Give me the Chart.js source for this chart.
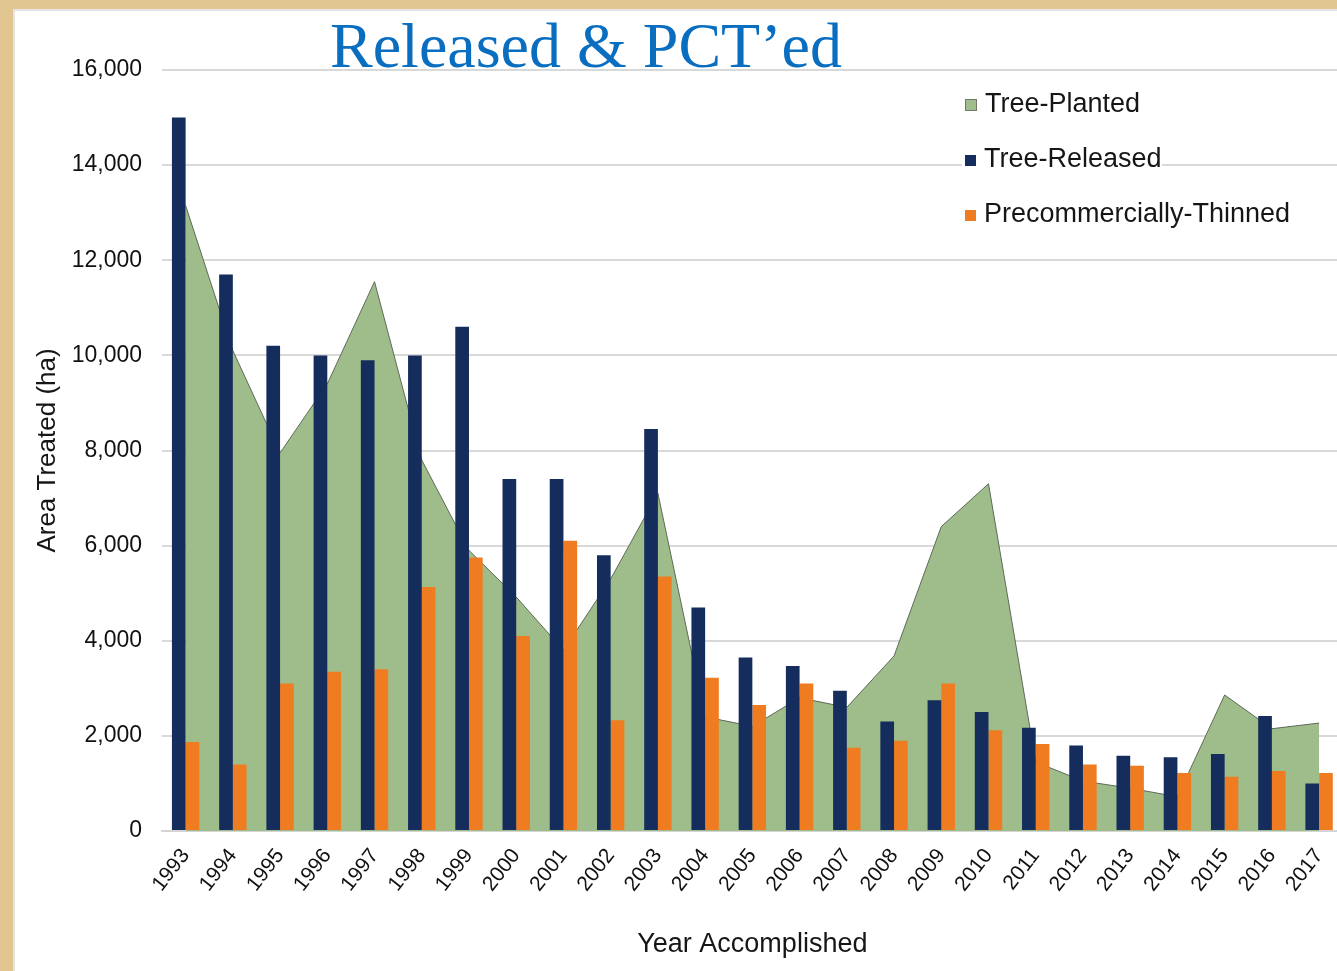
<!DOCTYPE html>
<html>
<head>
<meta charset="utf-8">
<script src="https://cdn.jsdelivr.net/npm/chart.js@4"></script>
<style>
  html, body { margin: 0; padding: 0; width: 1337px; height: 971px; overflow: hidden; }
  body { background: #e2c692; position: relative; font-family: "Liberation Sans", Arial, sans-serif; }
  #panel { position: absolute; left: 13px; top: 9px; width: 1340px; height: 980px; background: #fff; border: 2px solid #e4e4e4; }
  #title { position: absolute; left: 330px; top: 14px; font-family: "Liberation Serif", "Times New Roman", serif; font-size: 64px; line-height: 64px; color: #0a6ec0; white-space: nowrap; }
  #wrap { position: absolute; left: 0; top: 0; width: 1352px; height: 971px; }
  #legend { position: absolute; left: 962px; top: 86px; font-size: 27px; color: #161616; }
  #legend div { background: #fff; height: 34px; line-height: 34px; margin-bottom: 21px; white-space: nowrap; width: max-content; }
  #legend span { display: inline-block; width: 11px; height: 11px; margin: 0 8px 0 3px; vertical-align: 1px; }
</style>
</head>
<body>
<div id="panel"></div>
<div id="title">Released &amp; PCT’ed</div>
<div id="wrap"><canvas id="chart"></canvas></div>
<div id="legend">
  <div><span style="background:#9fbd8b;border:1px solid #6f7a68;width:10px;height:10px"></span>Tree-Planted</div>
  <div><span style="background:#152d5c"></span>Tree-Released</div>
  <div><span style="background:#f07c22"></span>Precommercially-Thinned</div>
</div>
<script>
const years = ['1993','1994','1995','1996','1997','1998','1999','2000','2001','2002','2003','2004','2005',
               '2006','2007','2008','2009','2010','2011','2012','2013','2014','2015','2016','2017'];
const planted = [13150, 10100, 7950, 9400, 11550, 7800, 5900, 4920, 3800, 5300, 7100, 2400, 2200,
                 2800, 2600, 3680, 6400, 7300, 1450, 1050, 900, 720, 2860, 2150, 2270];
const released = [15000, 11700, 10200, 10000, 9900, 10000, 10600, 7400, 7400, 5800, 8450, 4700, 3650,
                  3470, 2950, 2300, 2750, 2500, 2170, 1800, 1580, 1550, 1620, 2420, 1000];
const thinned = [1870, 1400, 3100, 3350, 3400, 5130, 5750, 4100, 6100, 2330, 5350, 3220, 2650,
                 3100, 1750, 1900, 3100, 2120, 1830, 1400, 1370, 1220, 1140, 1260, 1220];
const yTicks = [0, 2000, 4000, 6000, 8000, 10000, 12000, 14000, 16000];

const fontFamily = '"Liberation Sans", Arial, sans-serif';

new Chart(document.getElementById('chart'), {
  data: {
    labels: years,
    datasets: [
      {
        type: 'line',
        label: 'Tree-Planted',
        data: planted,
        fill: 'origin',
        backgroundColor: '#9fbd8b',
        borderColor: '#5e6a58',
        borderWidth: 1,
        pointRadius: 0,
        tension: 0,
        order: 2
      },
      {
        type: 'bar',
        label: 'Tree-Released',
        data: released,
        backgroundColor: '#152d5c',
        categoryPercentage: 0.58,
        barPercentage: 1.0,
        order: 1
      },
      {
        type: 'bar',
        label: 'Precommercially-Thinned',
        data: thinned,
        backgroundColor: '#f07c22',
        categoryPercentage: 0.58,
        barPercentage: 1.0,
        order: 1
      }
    ]
  },
  options: {
    responsive: true,
    maintainAspectRatio: false,
    animation: false,
    layout: { padding: { top: 70, right: 2, bottom: 0, left: 0 } },
    plugins: {
      legend: { display: false },
      tooltip: { enabled: false }
    },
    scales: {
      x: {
        offset: true,
        grid: { display: false, drawTicks: false },
        border: { display: true, color: '#d4d4d4', width: 2 },
        ticks: { color: '#111', font: { family: fontFamily, size: 21 }, maxRotation: 52, minRotation: 52, padding: 13, autoSkip: false },
        title: { display: true, text: 'Year Accomplished', color: '#161616',
                 font: { family: fontFamily, size: 27 }, padding: { top: 0, bottom: 10 } },
        afterFit: (axis) => { axis.height = 140; }
      },
      y: {
        min: 0,
        max: 16000,
        afterBuildTicks: (axis) => { axis.ticks = yTicks.map(v => ({ value: v })); },
        grid: { color: '#d9d9d9', lineWidth: 2, drawTicks: false },
        border: { display: false },
        ticks: { color: '#111', font: { family: fontFamily, size: 23 }, padding: 20 },
        title: { display: true, text: 'Area Treated (ha)', color: '#161616',
                 font: { family: fontFamily, size: 26 }, padding: { top: 32, bottom: 0 } },
        afterFit: (axis) => { axis.width = 162; }
      }
    }
  }
});
</script>
</body>
</html>
